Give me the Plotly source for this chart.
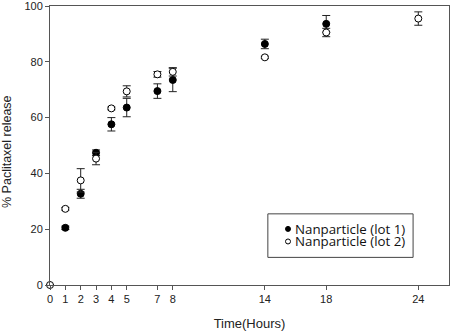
import plotly.graph_objects as go

# Data
t_lot1 = [1, 2, 3, 4, 5, 7, 8, 14, 18]
y_lot1 = [20.5, 32.7, 47.4, 57.6, 63.6, 69.5, 73.5, 86.4, 93.6]
e_lot1 = [0.6, 1.6, 1.0, 2.4, 3.3, 2.6, 4.2, 1.7, 3.0]

t_lot2 = [0, 1, 2, 3, 4, 5, 7, 8, 14, 18, 24]
y_lot2 = [0.0, 27.3, 37.5, 45.3, 63.3, 69.4, 75.5, 76.4, 81.6, 90.5, 95.5]
e_lot2 = [0.0, 0.5, 4.2, 2.2, 0.5, 2.0, 1.0, 1.5, 0.4, 1.5, 2.4]

series_names = ["Nanparticle (lot 1)", "Nanparticle (lot 2)"]
x_ticks = [0, 1, 2, 3, 4, 5, 7, 8, 14, 18, 24]
y_ticks = [0, 20, 40, 60, 80, 100]
x_title = "Time(Hours)"
y_title = "% Paclitaxel release"

axis_col = "#555555"
font_family = "Liberation Sans, Arial, sans-serif"
legend_font = "Open Sans, Liberation Sans, sans-serif"

fig = go.Figure()
fig.add_trace(go.Scatter(
    x=t_lot1, y=y_lot1, mode="markers", name=series_names[0],
    marker=dict(symbol="circle", size=7, color="black", line=dict(color="black", width=1)),
    error_y=dict(type="data", array=e_lot1, color="#222222", thickness=1, width=4),
    cliponaxis=False, showlegend=False,
))
fig.add_trace(go.Scatter(
    x=t_lot2, y=y_lot2, mode="markers", name=series_names[1],
    marker=dict(symbol="circle", size=7, color="white", line=dict(color="black", width=1)),
    error_y=dict(type="data", array=e_lot2, color="#222222", thickness=1, width=4),
    cliponaxis=False, showlegend=False,
))

# legend frame, symbols and labels
fig.add_shape(type="rect", xref="paper", yref="paper",
              x0=0.546, x1=0.910, y0=0.099, y1=0.255,
              line=dict(color="#444444", width=1), fillcolor="rgba(0,0,0,0)")
legend_rows = [0.201, 0.156]
legend_fill = ["black", "white"]
for name, yy, fc in zip(series_names, legend_rows, legend_fill):
    fig.add_shape(type="circle", xref="paper", yref="paper",
                  xsizemode="pixel", ysizemode="pixel",
                  xanchor=0.5965, yanchor=yy, x0=-2.5, x1=2.5, y0=-2.5, y1=2.5,
                  fillcolor=fc, line=dict(color="black", width=1))
    fig.add_annotation(text=name, xref="paper", yref="paper", x=0.612, y=yy,
                       xanchor="left", yanchor="middle", showarrow=False,
                       font=dict(family=legend_font, size=13.3, color="#111111"),
                       borderpad=0)

# y axis title (placed as rotated text left of the axis)
fig.add_annotation(text=y_title, xref="paper", yref="paper", x=-0.108, y=0.48,
                   xanchor="center", yanchor="middle", textangle=-90, showarrow=False,
                   font=dict(family=font_family, size=12.5, color="#222222"))

fig.update_layout(
    width=450, height=332,
    margin=dict(l=50, r=1, t=6, b=47),
    paper_bgcolor="white", plot_bgcolor="white",
    font=dict(family=font_family, size=11, color="#222222"),
    showlegend=False,
    xaxis=dict(
        range=[0, 26], tickmode="array", tickvals=x_ticks, ticktext=[str(v) for v in x_ticks],
        showline=True, linecolor=axis_col, linewidth=1, mirror=True,
        ticks="outside", ticklen=4, tickcolor=axis_col, showgrid=False, zeroline=False,
        title=dict(text=x_title, font=dict(size=13), standoff=14),
        tickfont=dict(size=11), automargin=False, ticklabeloverflow="allow",
    ),
    yaxis=dict(
        range=[0, 100], tickmode="array", tickvals=y_ticks,
        showline=True, linecolor=axis_col, linewidth=1, mirror=True,
        ticks="outside", ticklen=4, tickcolor=axis_col, showgrid=False, zeroline=False,
        tickfont=dict(size=11), automargin=False, ticklabeloverflow="allow",
    ),
)

fig.write_html("out.html", config={"displayModeBar": False},
               post_script="document.body.style.margin='0';")
